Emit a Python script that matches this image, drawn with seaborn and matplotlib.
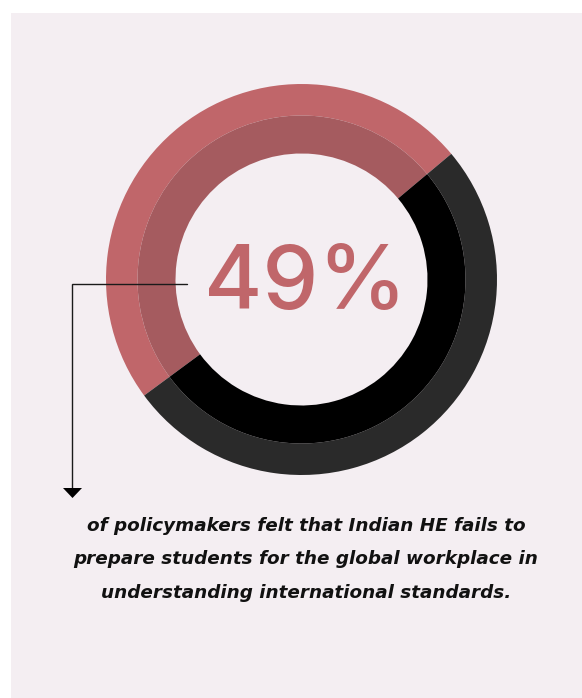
import matplotlib
matplotlib.use("Agg")
import matplotlib.pyplot as plt
from matplotlib.patches import Rectangle, Polygon
import seaborn as sns

# ---- data ----
categories = ["Agree", "Other"]
values = [49, 51]
label_value = "49%"
caption_lines = [
    "of policymakers felt that Indian HE fails to",
    "prepare students for the global workplace in",
    "understanding international standards.",
]

outer_colors = ["#c0666a", "#2a2a2a"]
inner_colors = ["#a55b5f", "#000000"]
panel_color = "#f4eef2"

sns.set_theme(style="white")
plt.rcParams["font.family"] = ["DejaVu Sans"]

W, H = 582, 698
fig = plt.figure(figsize=(W / 100, H / 100), dpi=100, facecolor="white")
ax = fig.add_axes([0, 0, 1, 1])

def Y(y):
    return H - y

cx, cy = 301.5, Y(279.5)
r_out, r_mid, r_in = 195.5, 164, 126

ax.pie(values, radius=r_out, center=(cx, cy), colors=outer_colors, startangle=40,
       counterclock=True, wedgeprops=dict(width=r_out - r_mid, edgecolor="none", linewidth=0),
       frame=True)
ax.pie(values, radius=r_mid, center=(cx, cy), colors=inner_colors, startangle=40,
       counterclock=True, wedgeprops=dict(width=r_mid - r_in, edgecolor="none", linewidth=0),
       frame=True)
ax.set_xlim(0, W)
ax.set_ylim(0, H)
ax.set_aspect("equal")
ax.axis("off")

ax.add_patch(Rectangle((11, 0), W - 11, Y(13), facecolor=panel_color, edgecolor="none", zorder=-1))

ax.text(305, Y(286), label_value, ha="center", va="center", fontsize=64,
        fontweight="medium", color=outer_colors[0], family=["Inter", "DejaVu Sans"], zorder=5)

# connector
ax.plot([187, 72, 72], [Y(284), Y(284), Y(489)], color="#1a1a1a", lw=1.0, zorder=5,
        solid_joinstyle="miter")
ax.add_patch(Polygon([[63, Y(488)], [82, Y(488)], [72.5, Y(498)]], closed=True,
                     facecolor="#000000", edgecolor="none", zorder=5))

for i, line in enumerate(caption_lines):
    ax.text(306, Y(526 + 33.5 * i), line, ha="center", va="center", fontsize=13.2,
            fontweight="bold", fontstyle="italic", color="#111111", zorder=5)

fig.savefig("out.png", dpi=100, facecolor="white")
